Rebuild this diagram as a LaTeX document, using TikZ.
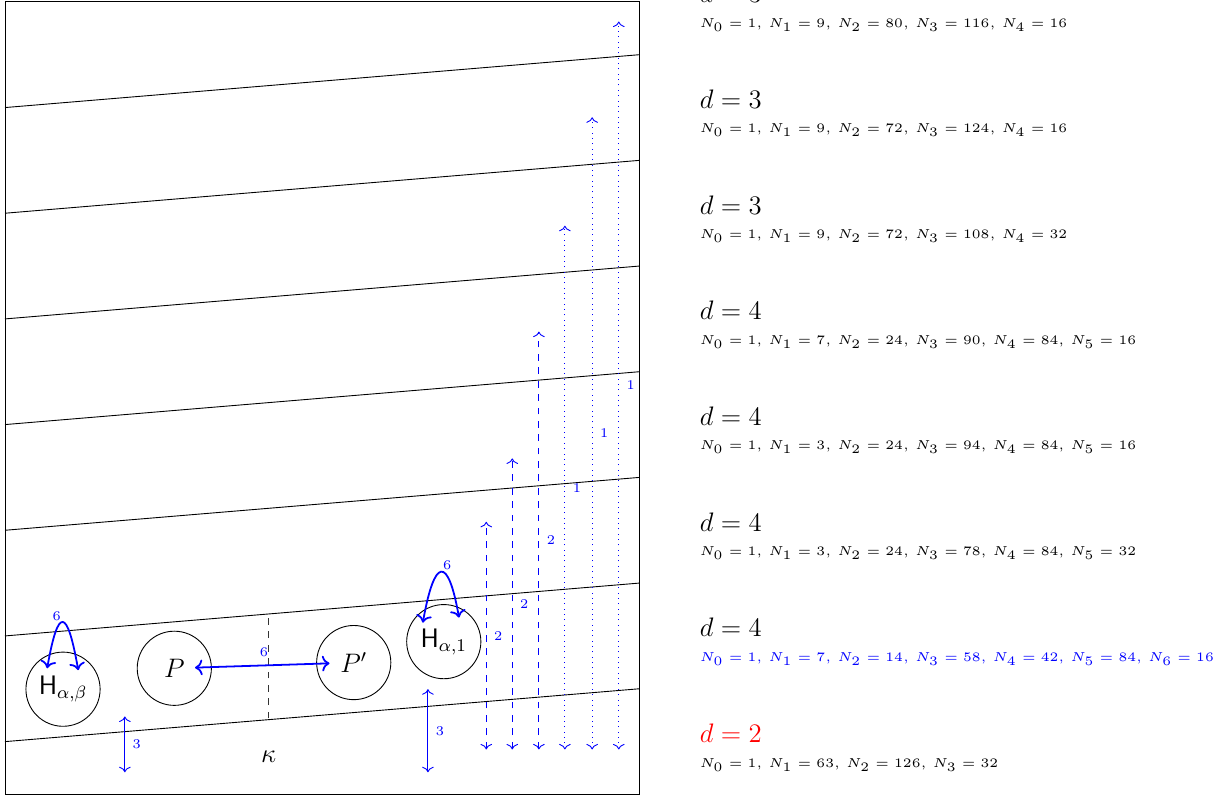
\documentclass[tikz,border=0pt]{standalone}
\usepackage{amsmath}
\usepackage{amssymb}
\usetikzlibrary{arrows.meta, positioning, calc}

\newcommand{\nrow}[1]{\scalebox{1.16}{\tiny$#1$}}

\begin{document}
\begin{tikzpicture}[
        font=\large,
        site/.style={draw, circle, minimum size=11.7mm, inner sep=0pt},
        lbl/.style={font=\fontsize{6}{7}\selectfont, text=blue},
        meas/.style={<->, blue},
        swap/.style={<->, thick, blue},
        dlbl/.style={anchor=west, inner sep=0pt},
        nlbl/.style={anchor=west, inner sep=0pt}
    ]
        \useasboundingbox (-0.079,-0.016) rectangle (19.32,12.53);
        % --- Rahmen und schraege Schichten ---
        \draw (0,0) rectangle (10,12.5);
        \foreach \k in {1,...,7}
            \draw (0,{(2*\k-1)*5/6}) -- (10,{2*\k*5/6});

        % --- Platzhalter ---
        \node[site] (Hab) at (0.915,1.66) {$\mathsf{H}_{\alpha,\beta}$};
        \node[site] (P) at (2.67,1.99) {$P$};
        \node[site] (Pp) at (5.5,2.08) {$P'$};
        \node[site] (Ha1) at (6.92,2.41) {$\mathsf{H}_{\alpha,1}$};
        \node (kappa) at (4.16,0.6) {$\kappa$};

        % --- Schnitt zwischen P und P' ---
        \coordinate (cutlo) at (4.16,1.2);
        \coordinate (cuthi) at (4.16,2.88);
        \draw[dashed, black!80] (cutlo) -- (cuthi);

        % --- Vertauschungen ---
        \draw[swap, shorten <=-2.65mm, shorten >=-2.1mm] (P) -- node[lbl, above]{6} (Pp);
        \draw[swap] ($(Hab.center)+(-0.25,0.33)$) .. controls +(80:1) and +(100:1) ..
            node[lbl, above left, inner sep=0.5pt]{6} ($(Hab.center)+(0.24,0.3)$);
        \draw[swap] ($(Ha1.center)+(-0.33,0.3)$) .. controls +(80:1.05) and +(100:1) ..
            node[lbl, above right, inner sep=0.5pt]{6} ($(Ha1.center)+(0.24,0.38)$);

        % --- Abstaende ---
        \coordinate (a3lo) at (1.89,0.35);
        \coordinate (a3hi) at (1.89,1.23);
        \draw[meas] (a3lo) -- node[lbl, right]{3} (a3hi);
        \coordinate (b3lo) at (6.67,0.35);
        \coordinate (b3hi) at (6.67,1.66);
        \draw[meas] (b3lo) -- node[lbl, right]{3} (b3hi);
        \foreach \x/\y [count=\i] in {7.59/4.3, 8.0/5.3, 8.42/7.3} {
            \coordinate (dlo\i) at (\x,0.71);
            \coordinate (dhi\i) at (\x,\y);
            \draw[meas, dashed] (dlo\i) -- node[lbl, right]{2} (dhi\i);
        }
        \foreach \x/\y [count=\i] in {8.83/8.97, 9.26/10.68, 9.68/12.19} {
            \coordinate (olo\i) at (\x,0.71);
            \coordinate (ohi\i) at (\x,\y);
            \draw[meas, dotted] (olo\i) -- node[lbl, right]{1} (ohi\i);
        }

        % --- Varianten rechts ---
        \foreach \dd/\nn [count=\i from 0] in {
            {3}/{N_0 = 1,\, N_1 = 9,\, N_2 = 80,\, N_3 = 116,\, N_4 = 16},
            {3}/{N_0 = 1,\, N_1 = 9,\, N_2 = 72,\, N_3 = 124,\, N_4 = 16},
            {3}/{N_0 = 1,\, N_1 = 9,\, N_2 = 72,\, N_3 = 108,\, N_4 = 32},
            {4}/{N_0 = 1,\, N_1 = 7,\, N_2 = 24,\, N_3 = 90,\, N_4 = 84,\, N_5 = 16},
            {4}/{N_0 = 1,\, N_1 = 3,\, N_2 = 24,\, N_3 = 94,\, N_4 = 84,\, N_5 = 16},
            {4}/{N_0 = 1,\, N_1 = 3,\, N_2 = 24,\, N_3 = 78,\, N_4 = 84,\, N_5 = 32}} {
            \node[dlbl] (d\i) at (10.95,{12.63-\i*5/3}) {$d = \dd$};
            \node[nlbl] (n\i) at (10.95,{12.14-\i*5/3}) {\nrow{\nn}};
        }
        \node[dlbl] (d6) at (10.95,2.63) {$d = 4$};
        \node[nlbl, text=blue] (n6) at (10.95,2.14) {\nrow{N_0 = 1,\, N_1 = 7,\, N_2 = 14,\, N_3 = 58,\, N_4 = 42,\, N_5 = 84,\, N_6 = 16}};
        \node[dlbl, text=red] (d7) at (10.95,0.96) {$d = 2$};
        \node[nlbl] (n7) at (10.95,0.47) {\nrow{N_0 = 1,\, N_1 = 63,\, N_2 = 126,\, N_3 = 32}};
    \end{tikzpicture}
\end{document}
